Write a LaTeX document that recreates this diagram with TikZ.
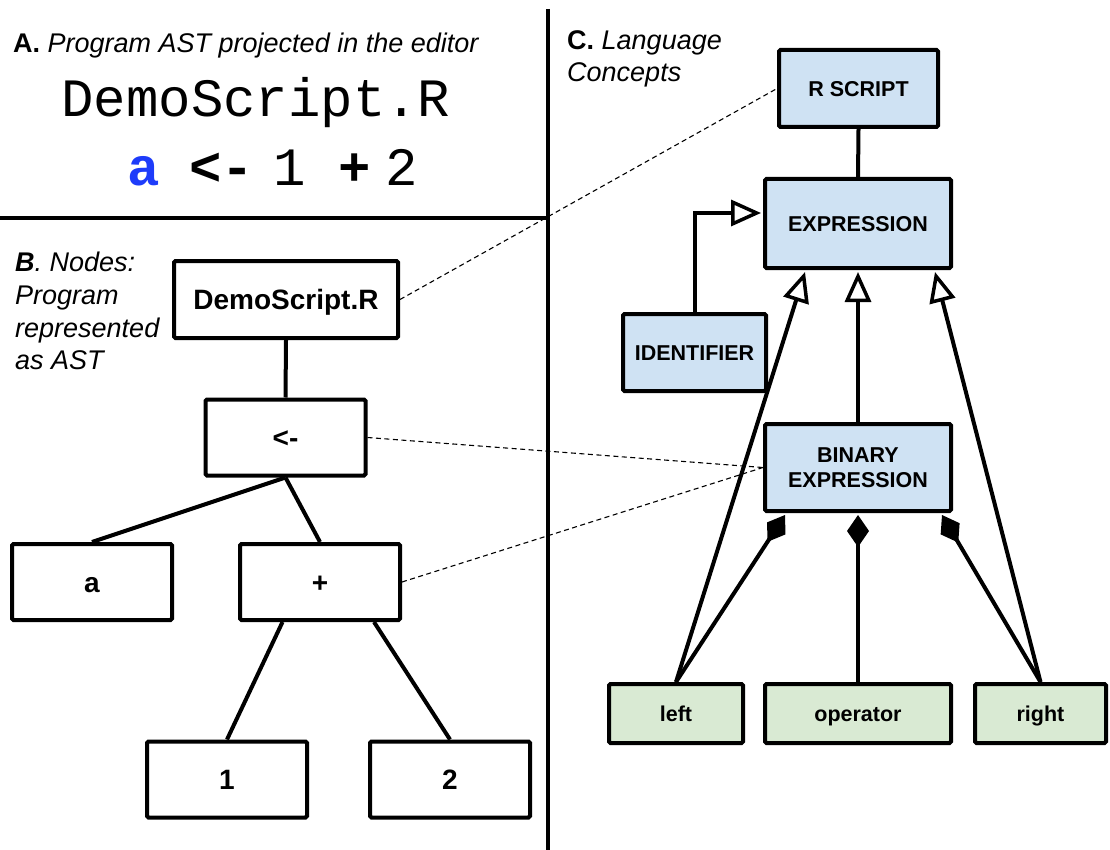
\documentclass[tikz,border=0pt]{standalone}
\usepackage{fontspec}
\setmainfont{Liberation Sans}
\newfontfamily\codefont{Liberation Mono}
\usetikzlibrary{arrows.meta}
\definecolor{conceptblue}{HTML}{CFE2F3}
\definecolor{partgreen}{HTML}{D9EAD3}
\definecolor{codeblue}{RGB}{30,60,250}
\begin{document}
\begin{tikzpicture}[x=1pt,y=-1pt,
  astbox/.style={draw, line width=4pt, rounded corners=1.5pt, inner sep=0pt,
    minimum width=160pt, minimum height=76pt,
    font=\fontsize{28}{32}\selectfont\bfseries, text height=20pt, text depth=0pt},
  conceptbase/.style={draw, line width=4pt, rounded corners=1.5pt, inner sep=0pt,
    fill=conceptblue, font=\fontsize{21.5}{25}\selectfont\bfseries},
  concept/.style={conceptbase, text height=15.4pt, text depth=0pt},
  part/.style={concept, fill=partgreen, minimum height=59pt},
  link/.style={line width=4pt},
  gen/.style={line width=4pt, -{Triangle[open,fill=white,length=30pt 0,width=26pt 0,line width=3.5pt]}},
  comp/.style={line width=4pt, -{Diamond[length=32pt 0,width=22pt 0]}},
  trace/.style={line width=1.1pt, dash pattern=on 5pt off 3.5pt},
  header/.style={anchor=base west, inner sep=0pt, font=\fontsize{27}{32}\selectfont},
  code/.style={anchor=base, inner sep=0pt, font=\codefont\fontsize{54}{60}\selectfont},
]
\useasboundingbox (0,0) rectangle (1110,850);

% dividers
\draw[line width=3.5pt] (548,9) -- (548,850);
\draw[line width=3.5pt] (0,218) -- (548,218);

% headers
\node[header] (hA) at (13,53) {\textbf{A.} \textit{Program AST projected in the editor}};
\node[header] (hB1) at (15,272) {\textbf{\textit{B}}\textit{. Nodes:}};
\node[header] (hB2) at (15,304.5) {\textit{Program}};
\node[header] (hB3) at (15,337) {\textit{represented}};
\node[header] (hB4) at (15,369.5) {\textit{as AST}};
\node[header] (hC1) at (567,50) {\textbf{C.} \textit{Language}};
\node[header] (hC2) at (567,82) {\textit{Concepts}};

% editor projection
\node[code] (fname) at (256,117) {DemoScript.R};
\node[code, text=codeblue, font=\codefont\bfseries\fontsize{54}{60}\selectfont] (ca) at (143.5,186) {a};
\node[code, font=\codefont\bfseries\fontsize{54}{60}\selectfont] (carrow) at (222,186) {<-};
\node[code] (cone) at (290,186) {1};
\node[code, font=\codefont\bfseries\fontsize{54}{60}\selectfont] (cplus) at (355,186) {+};
\node[code] (ctwo) at (402,186) {2};

% AST nodes
\node[astbox, minimum width=224pt, minimum height=77pt] (ds) at (286,299.5) {DemoScript.R};
\node[astbox] (assign) at (285.5,437.5) {<-};
\node[astbox] (a) at (92,582) {a};
\node[astbox] (plus) at (320,582) {+};
\node[astbox] (one) at (227,779.5) {1};
\node[astbox] (two) at (450,779.5) {2};

\draw[link] (ds.south) -- (assign.north);
\draw[link] (assign.south) -- (a.north);
\draw[link] (assign.south) -- (plus.north);
\draw[link] ([xshift=-37.5pt]plus.south) -- (one.north);
\draw[link] ([xshift=54pt]plus.south) -- (two.north);

% language concepts
\node[concept, minimum width=159pt, minimum height=77pt] (rs) at (858.5,88.5) {R SCRIPT};
\node[concept, minimum width=186pt, minimum height=89pt] (ex) at (858,223.5) {EXPRESSION};
\node[concept, minimum width=143pt, minimum height=77pt] (id) at (694.5,352.5) {IDENTIFIER};
\node[conceptbase, align=center, minimum width=186pt, minimum height=87pt] (bin) at (858,467.5) {BINARY\\EXPRESSION};
\node[part, minimum width=134pt] (lft) at (676,713.5) {left};
\node[part, minimum width=186pt] (opr) at (858,713.5) {operator};
\node[part, minimum width=131pt] (rgt) at (1040.5,713.5) {right};

\draw[link] (rs.south) -- (ex.north);
\draw[gen] (id.north) |- ([xshift=-2pt,yshift=10.5pt]ex.west);
\draw[gen] (bin.north) -- ([yshift=-2pt]ex.south);
\draw[gen] (lft.north) -- ([xshift=-53pt,yshift=-2pt]ex.south);
\draw[gen] (rgt.north) -- ([xshift=77pt,yshift=-2pt]ex.south);
\draw[comp] (lft.north) -- ([xshift=-73pt,yshift=-2pt]bin.south);
\draw[comp] (opr.north) -- ([yshift=-2pt]bin.south);
\draw[comp] (rgt.north) -- ([xshift=84pt,yshift=-2pt]bin.south);

% traces between AST nodes and concepts
\draw[trace] (ds.east) -- (rs.west);
\draw[trace] (assign.east) -- (bin.west);
\draw[trace] (plus.east) -- (bin.west);
\end{tikzpicture}
\end{document}
